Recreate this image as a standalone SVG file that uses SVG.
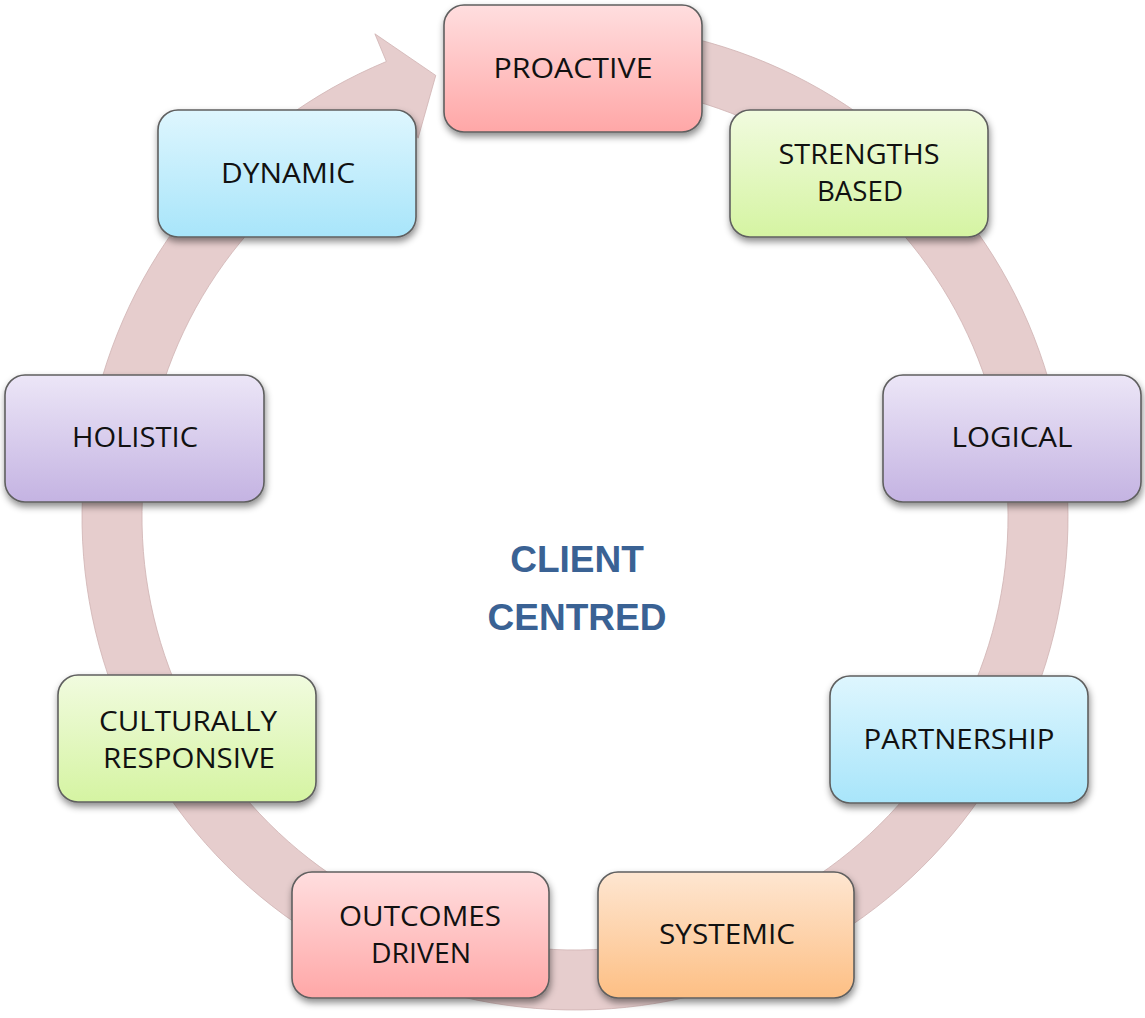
<svg xmlns="http://www.w3.org/2000/svg" width="1145" height="1018" viewBox="0 0 1145 1018">
  <defs>
    <linearGradient id="gPink" x1="0" y1="0" x2="0" y2="1">
      <stop offset="0" stop-color="#ffdedf"/>
      <stop offset="1" stop-color="#ffa7a7"/>
    </linearGradient>
    <linearGradient id="gGreen" x1="0" y1="0" x2="0" y2="1">
      <stop offset="0" stop-color="#f1fbdf"/>
      <stop offset="1" stop-color="#d5f4a2"/>
    </linearGradient>
    <linearGradient id="gBlue" x1="0" y1="0" x2="0" y2="1">
      <stop offset="0" stop-color="#def6fe"/>
      <stop offset="1" stop-color="#a8e5fa"/>
    </linearGradient>
    <linearGradient id="gPurple" x1="0" y1="0" x2="0" y2="1">
      <stop offset="0" stop-color="#ece6f7"/>
      <stop offset="1" stop-color="#c4b3e2"/>
    </linearGradient>
    <linearGradient id="gOrange" x1="0" y1="0" x2="0" y2="1">
      <stop offset="0" stop-color="#fee6d1"/>
      <stop offset="1" stop-color="#fdbf84"/>
    </linearGradient>
    <filter id="shadow" x="-10%" y="-10%" width="125%" height="135%">
      <feDropShadow dx="1" dy="4" stdDeviation="3.5" flood-color="#000" flood-opacity="0.45"/>
    </filter>
  </defs>
  <style>
    .box { stroke: #5f5f5f; stroke-width: 1.6; filter: url(#shadow); }
    .lbl { font-family: "Open Sans", "Liberation Sans", sans-serif; font-size: 27px; fill: #111; text-anchor: middle; }
    .center { font-family: "Liberation Sans", Arial, sans-serif; font-size: 37px; font-weight: bold; fill: #3a6294; text-anchor: middle; }
    .band { fill: #e6cdcd; stroke: #cfb3b3; stroke-width: 0.8; }
  </style>
  <rect width="1145" height="1018" fill="#fff"/>

  <g id="connectors">
    <path class="band" d="M575,24 A493,493 0 1 1 386.34,61.53 L374.86,33.81 L435.77,75.43 L418.1,138.2 L409.30,116.96 A433,433 0 1 0 575,84 Z"/>
  </g>

  <g id="node-proactive">
    <rect class="box" x="444" y="5" width="258" height="127" rx="20" fill="url(#gPink)"/>
    <text class="lbl" x="573" y="78" textLength="159" lengthAdjust="spacingAndGlyphs">PROACTIVE</text>
  </g>
  <g id="node-strengths">
    <rect class="box" x="730" y="110" width="258" height="127" rx="20" fill="url(#gGreen)"/>
    <text class="lbl" x="859" y="164" textLength="161" lengthAdjust="spacingAndGlyphs">STRENGTHS</text>
    <text class="lbl" x="860" y="201" textLength="86" lengthAdjust="spacingAndGlyphs">BASED</text>
  </g>
  <g id="node-dynamic">
    <rect class="box" x="158" y="110" width="258" height="127" rx="20" fill="url(#gBlue)"/>
    <text class="lbl" x="288" y="183" textLength="134" lengthAdjust="spacingAndGlyphs">DYNAMIC</text>
  </g>
  <g id="node-holistic">
    <rect class="box" x="5" y="375" width="259" height="127" rx="20" fill="url(#gPurple)"/>
    <text class="lbl" x="135" y="447" textLength="126" lengthAdjust="spacingAndGlyphs">HOLISTIC</text>
  </g>
  <g id="node-logical">
    <rect class="box" x="883" y="375" width="258" height="127" rx="20" fill="url(#gPurple)"/>
    <text class="lbl" x="1012" y="447" textLength="121" lengthAdjust="spacingAndGlyphs">LOGICAL</text>
  </g>
  <g id="node-culturally">
    <rect class="box" x="58" y="675" width="258" height="127" rx="20" fill="url(#gGreen)"/>
    <text class="lbl" x="188" y="731" textLength="178" lengthAdjust="spacingAndGlyphs">CULTURALLY</text>
    <text class="lbl" x="189" y="768" textLength="172" lengthAdjust="spacingAndGlyphs">RESPONSIVE</text>
  </g>
  <g id="node-partnership">
    <rect class="box" x="830" y="676" width="258" height="127" rx="20" fill="url(#gBlue)"/>
    <text class="lbl" x="959" y="749" textLength="191" lengthAdjust="spacingAndGlyphs">PARTNERSHIP</text>
  </g>
  <g id="node-outcomes">
    <rect class="box" x="292" y="872" width="257" height="126" rx="20" fill="url(#gPink)"/>
    <text class="lbl" x="420" y="926" textLength="162" lengthAdjust="spacingAndGlyphs">OUTCOMES</text>
    <text class="lbl" x="421" y="963" textLength="100" lengthAdjust="spacingAndGlyphs">DRIVEN</text>
  </g>
  <g id="node-systemic">
    <rect class="box" x="598" y="872" width="256" height="126" rx="20" fill="url(#gOrange)"/>
    <text class="lbl" x="727" y="944" textLength="136" lengthAdjust="spacingAndGlyphs">SYSTEMIC</text>
  </g>

  <g id="node-center">
    <text class="center" x="577" y="572">CLIENT</text>
    <text class="center" x="577" y="630">CENTRED</text>
  </g>
</svg>
